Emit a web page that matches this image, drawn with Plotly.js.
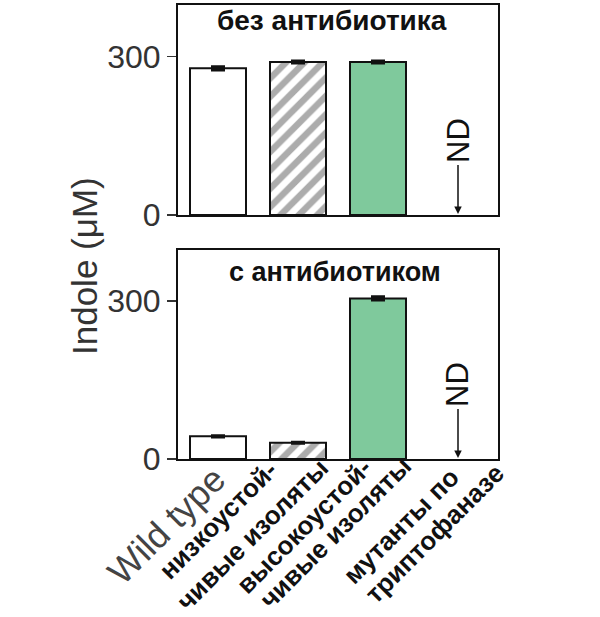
<!DOCTYPE html>
<html>
<head>
<meta charset="utf-8">
<script src="https://cdn.plot.ly/plotly-3.0.1.min.js"></script>
<style>html,body{margin:0;padding:0;background:#fff;}#chart{width:600px;height:617px;}</style>
</head>
<body>
<div id="chart"></div>
<script>
// ---- data ----
const categories = ['Wild type', 'низкоустойчивые изоляты', 'высокоустойчивые изоляты', 'мутанты по триптофаназе'];
const labelLines = [['Wild type'], ['низкоустой-', 'чивые изоляты'], ['высокоустой-', 'чивые изоляты'], ['мутанты по', 'триптофаназе']];
const noAntibiotic = [278, 290, 290, null];
const noAntibioticErr = [3, 2, 2, 0];
const withAntibiotic = [43, 31, 305, null];
const withAntibioticErr = [1, 1, 3, 0];
const panelTitles = ['без антибиотика', 'с антибиотиком'];
const ndLabel = 'ND';
const yTitle = 'Indole (μM)';
const yTicks = [0, 300];

// ---- styles ----
const fills = ['#ffffff', '#ffffff', '#7fc99c', '#ffffff'];
const patterns = ['', '/', '', ''];
const FONT = 'Liberation Sans, Arial, Helvetica, sans-serif';

const data = [];
function addBars(vals, errs, xa, ya) {
  categories.forEach(function (c, i) {
    if (vals[i] === null) return;
    const marker = {color: fills[i], line: {color: '#111', width: 2}};
    if (patterns[i]) {
      marker.pattern = {shape: patterns[i], fgcolor: '#5a5a5a', bgcolor: '#ffffff', size: 13, solidity: 0.5, fillmode: 'overlay'};
    }
    data.push({
      type: 'bar', x: [c], y: [vals[i]], xaxis: xa, yaxis: ya, width: 0.7,
      marker: marker,
      error_y: {type: 'data', array: [errs[i]], visible: true, color: '#111', thickness: 3, width: 7},
      hoverinfo: 'skip', showlegend: false
    });
  });
}
addBars(noAntibiotic, noAntibioticErr, 'x', 'y');
addBars(withAntibiotic, withAntibioticErr, 'x2', 'y2');

const xdom = [178 / 600, 498 / 600];
const yAxisBase = {
  tickvals: yTicks, ticks: 'outside', ticklen: 9, tickwidth: 1.5, tickcolor: '#333',
  tickfont: {family: FONT, size: 32, color: '#333'},
  showline: true, linecolor: '#111', linewidth: 2, mirror: true,
  showgrid: false, zeroline: false, fixedrange: true
};
const xAxisBase = {
  type: 'category', categoryorder: 'array', categoryarray: categories, range: [-0.5, 3.5], domain: xdom,
  showticklabels: false, ticks: '',
  showline: true, linecolor: '#111', linewidth: 2, mirror: true, showgrid: false, zeroline: false, fixedrange: true
};

const annotations = [];
// panel titles
annotations.push({xref: 'paper', yref: 'paper', x: 332 / 600, y: 1 - 21 / 617, text: '<b>' + panelTitles[0] + '</b>',
  showarrow: false, font: {family: FONT, size: 28, color: '#111'}, xanchor: 'center', yanchor: 'middle'});
annotations.push({xref: 'paper', yref: 'paper', x: 335 / 600, y: 1 - 272 / 617, text: '<b>' + panelTitles[1] + '</b>',
  showarrow: false, font: {family: FONT, size: 27, color: '#111'}, xanchor: 'center', yanchor: 'middle'});
// y title
annotations.push({xref: 'paper', yref: 'paper', x: 84 / 600, y: 1 - 266 / 617, text: yTitle, textangle: -90,
  showarrow: false, font: {family: FONT, size: 35, color: '#333'}, xanchor: 'center', yanchor: 'middle'});
// ND arrows
[['x', 'y'], ['x2', 'y2']].forEach(function (r) {
  annotations.push({xref: r[0], yref: r[1], x: categories[3], y: 0, text: ndLabel, textangle: -90,
    showarrow: true, ax: 0, ay: -74, arrowhead: 2, arrowsize: 1, arrowwidth: 1.5, arrowcolor: '#111', standoff: 1,
    font: {family: FONT, size: 31, color: '#111'}});
});
// rotated category labels
const lineOffsets = [
  [[-52, -66]],
  [[-80, -61], [-46, -76]],
  [[-74, -67], [-43, -74]],
  [[-57, -67], [-24, -75]]
];
labelLines.forEach(function (lines, i) {
  lines.forEach(function (ln, j) {
    const isWT = (i === 0);
    annotations.push({xref: 'x2', yref: 'y2', x: categories[i], y: 0,
      xshift: lineOffsets[i][j][0], yshift: lineOffsets[i][j][1],
      text: isWT ? ln : '<b>' + ln + '</b>', textangle: -45, showarrow: false,
      xanchor: 'center', yanchor: 'middle',
      font: {family: FONT, size: isWT ? 36 : 26, color: isWT ? '#444' : '#111'}});
  });
});

const layout = {
  width: 600, height: 617, margin: {l: 0, r: 0, t: 0, b: 0},
  paper_bgcolor: '#fff', plot_bgcolor: '#fff', showlegend: false, barmode: 'overlay',
  xaxis: Object.assign({}, xAxisBase, {anchor: 'y'}),
  xaxis2: Object.assign({}, xAxisBase, {anchor: 'y2'}),
  yaxis: Object.assign({}, yAxisBase, {domain: [1 - 215 / 617, 1 - 5 / 617], range: [0, 398], anchor: 'x'}),
  yaxis2: Object.assign({}, yAxisBase, {domain: [1 - 459 / 617, 1 - 250 / 617], range: [0, 397], anchor: 'x2'}),
  annotations: annotations
};

Plotly.newPlot('chart', data, layout, {displayModeBar: false, staticPlot: true});
</script>
</body>
</html>
